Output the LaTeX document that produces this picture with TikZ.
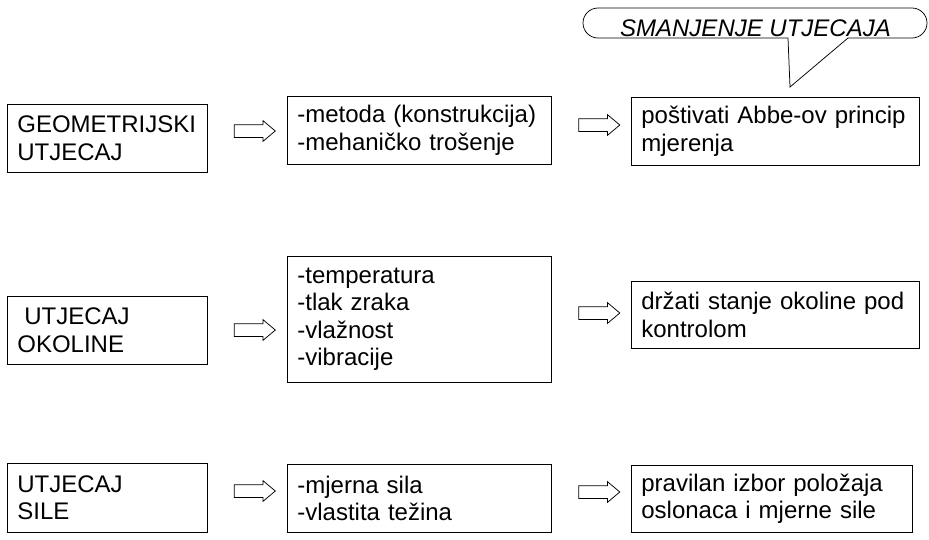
\documentclass[tikz,border=0pt]{standalone}
\usepackage{fontspec}
\setmainfont{Liberation Sans}
\usepackage{tikz}
\usetikzlibrary{positioning}
\usetikzlibrary{shapes.arrows}

\tikzset{
  infobox/.style={draw, line width=0.75pt, anchor=north west, inner xsep=10pt, inner ysep=2pt,
    align=left, font=\fontsize{24}{27.5}\selectfont},
  hollowarrow/.style={draw, line width=0.75pt, single arrow, single arrow head extend=4pt,
    single arrow tip angle=80, minimum height=41pt, minimum width=20pt,
    inner xsep=0pt, inner ysep=6pt}
}

\begin{document}
\begin{tikzpicture}[x=1pt, y=-1pt]
                \useasboundingbox (0,0) rectangle (929,539);

                % Nodes: geometric influence
                \node at (7,104) (geo_name) [infobox, text width=180pt, minimum height=68pt] {GEOMETRIJSKI\\UTJECAJ};
                \node at (287,96) (geo_list) [infobox, text width=244pt, minimum height=68pt] {-metoda (konstrukcija)\\-mehaničko trošenje};
                \node at (631,97) (geo_fix) [infobox, text width=268pt, minimum height=68pt] {poštivati Abbe-ov princip\\mjerenja};

                % Nodes: environment
                \node at (7,296) (env_name) [infobox, text width=180pt, minimum height=68pt] {\hspace*{7pt}UTJECAJ\\OKOLINE};
                \node at (287,256) (env_list) [infobox, text width=244pt, minimum height=126pt] {-temperatura\\-tlak zraka\\-vlažnost\\-vibracije};
                \node at (631,281) (env_fix) [infobox, text width=268pt, minimum height=67pt] {držati stanje okoline pod\\kontrolom};

                % Nodes: force
                \node at (7,463) (force_name) [infobox, text width=180pt, minimum height=69pt] {UTJECAJ\\SILE};
                \node at (287,464) (force_list) [infobox, text width=244pt, minimum height=68pt] {-mjerna sila\\-vlastita težina};
                \node at (631,465) (force_fix) [infobox, text width=261pt, minimum height=67pt] {pravilan izbor položaja\\oslonaca i mjerne sile};

                % Arrows
                \node at (251,131) (geo_arrow1) [hollowarrow] {};
                \node at (595.5,125) (geo_arrow2) [hollowarrow] {};
                \node at (251,330) (env_arrow1) [hollowarrow] {};
                \node at (595.5,313) (env_arrow2) [hollowarrow] {};
                \node at (251,491) (force_arrow1) [hollowarrow] {};
                \node at (595.5,492) (force_arrow2) [hollowarrow] {};

                % Callout: SMANJENJE UTJECAJA
                \coordinate (callout_tip) at (790,87);
                \draw[line width=0.75pt, rounded corners=15pt] (848,38) -- (927,38) -- (927,8) -- (583,8) -- (583,38) -- (788,38);
                \draw[line width=0.75pt] (788,38) -- (callout_tip) -- (848,38);
                \node at (755.5,36) (callout_text) [anchor=base, font=\fontsize{24}{27.5}\selectfont\itshape] {SMANJENJE UTJECAJA};

            \end{tikzpicture}
\end{document}
